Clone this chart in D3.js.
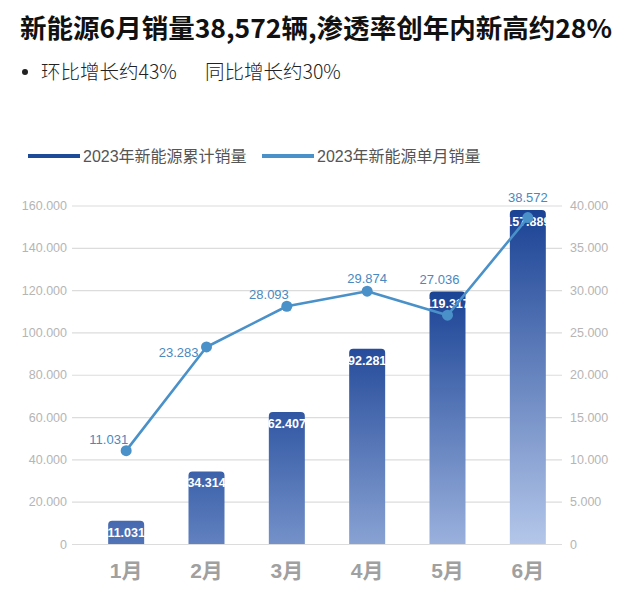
<!DOCTYPE html>
<html><head><meta charset="utf-8">
<script src="https://cdn.jsdelivr.net/npm/d3@7"></script>
<style>
html,body{margin:0;padding:0;background:#fff;}
svg{display:block;}
</style></head>
<body>
<svg id="chart" width="640" height="589"></svg>
<script>
// ---- data ----
const months = ["1月","2月","3月","4月","5月","6月"];
const cumulativeSales = [11031, 34314, 62407, 92281, 119317, 157889];
const monthlySales = [11031, 23283, 28093, 29874, 27036, 38572];
const leftTicks = [0,20000,40000,60000,80000,100000,120000,140000,160000];
const rightTicks = [0,5000,10000,15000,20000,25000,30000,35000,40000];
const seriesNames = ["2023年新能源累计销量","2023年新能源单月销量"];
const titleText = "新能源6月销量38,572辆,渗透率创年内新高约28%";
const subtitleParts = ["环比增长约43%", "同比增长约30%"];
// label placement for line values (style)
const lineLabelPlace = ["leftAbove","left","leftAbove","above","aboveLeft","above"];

const svg = d3.select("#chart");
const cjk = "'Liberation Sans','Noto Sans CJK SC',sans-serif";
const fmt = d3.formatLocale({decimal:",",thousands:".",grouping:[3],currency:["",""]}).format(",");

// title
svg.append("text").attr("x",20).attr("y",38)
  .attr("font-family","'Noto Sans CJK SC',sans-serif").attr("font-weight","bold")
  .attr("font-size",26).attr("fill","#111").attr("textLength",592).attr("lengthAdjust","spacingAndGlyphs")
  .text(titleText);
svg.append("circle").attr("cx",25).attr("cy",72).attr("r",3).attr("fill","#222");
const subX = [41, 205];
subtitleParts.forEach((t,i)=>{
  svg.append("text").attr("x",subX[i]).attr("y",79)
    .attr("font-family","'Noto Sans CJK SC',sans-serif").attr("font-weight",300)
    .attr("font-size",19.5).attr("fill","#222").text(t);
});

// legend
const legendColors = ["#1d4b98","#4a91c9"];
const legendX = [28, 262];
seriesNames.forEach((n,i)=>{
  svg.append("rect").attr("x",legendX[i]).attr("y",154).attr("width",52).attr("height",4).attr("fill",legendColors[i]);
  svg.append("text").attr("x",legendX[i]+55).attr("y",162)
    .attr("font-family",cjk).attr("font-size",16).attr("fill","#555").text(n);
});

// scales
const plotL = 72, plotR = 562, y0 = 544, y1 = 205.5;
const x = d3.scaleBand().domain(months).range([86,568]);
const yL = d3.scaleLinear().domain([0,160000]).range([y0,y1]);
const yR = d3.scaleLinear().domain([0,40000]).range([y0,y1]);
const barW = 36;
const cx = d => x(d) + x.bandwidth()/2;

// left axis w/ gridlines
const gL = svg.append("g").attr("transform",`translate(${plotL},0)`)
  .call(d3.axisLeft(yL).tickValues(leftTicks).tickFormat(d=>fmt(d)).tickSize(-(plotR-plotL)).tickPadding(5));
gL.select(".domain").remove();
gL.selectAll(".tick line").attr("stroke","#dcdcdc").attr("stroke-width",1.2);
gL.selectAll(".tick text").attr("fill","#b5b5b5").attr("font-size",12.5).attr("font-family","'Liberation Sans',sans-serif");

const gR = svg.append("g").attr("transform",`translate(${plotR},0)`)
  .call(d3.axisRight(yR).tickValues(rightTicks).tickFormat(d=>fmt(d)).tickSize(0).tickPadding(8));
gR.select(".domain").remove();
gR.selectAll(".tick text").attr("fill","#b5b5b5").attr("font-size",12.5).attr("font-family","'Liberation Sans',sans-serif");

// x labels
svg.append("g").selectAll("text").data(months).join("text")
  .attr("x",d=>cx(d)).attr("y",578).attr("text-anchor","middle")
  .attr("font-family",cjk).attr("font-weight","bold").attr("font-size",21).attr("fill","#a0a0a0").text(d=>d);

// bar gradients
const defs = svg.append("defs");
const dark = d3.color("#1a4294"), mid = d3.color("#4a6db3"), light = d3.color("#b4c7ea");
const maxH = y0 - yL(d3.max(cumulativeSales));
cumulativeSales.forEach((v,i)=>{
  const t = (y0 - yL(v))/maxH;
  const g = defs.append("linearGradient").attr("id","bg"+i).attr("x1",0).attr("y1",0).attr("x2",0).attr("y2",1);
  g.append("stop").attr("offset","0%").attr("stop-color",d3.interpolateRgb(mid,dark)(Math.min(1,t*1.3)));
  g.append("stop").attr("offset","100%").attr("stop-color",d3.interpolateRgb(mid,light)(t));
});

// bars with rounded top corners
const r = 4;
svg.append("g").selectAll("path").data(cumulativeSales).join("path")
  .attr("fill",(d,i)=>`url(#bg${i})`)
  .attr("d",(d,i)=>{
    const xl = cx(months[i]) - barW/2, xr = xl + barW, yt = yL(d);
    return `M${xl},${y0}V${yt+r}Q${xl},${yt} ${xl+r},${yt}H${xr-r}Q${xr},${yt} ${xr},${yt+r}V${y0}Z`;
  });
svg.append("g").selectAll("text").data(cumulativeSales).join("text")
  .attr("x",(d,i)=>cx(months[i])).attr("y",d=>yL(d)+16).attr("text-anchor","middle")
  .attr("font-family","'Liberation Sans',sans-serif").attr("font-weight","bold").attr("font-size",12.5)
  .attr("fill","#fff").text(d=>fmt(d));

// line
const lineColor = "#4a91c9";
const line = d3.line().x((d,i)=>cx(months[i])).y(d=>yR(d));
svg.append("path").datum(monthlySales).attr("d",line).attr("fill","none")
  .attr("stroke",lineColor).attr("stroke-width",2.6).attr("stroke-linejoin","round");
svg.append("g").selectAll("circle").data(monthlySales).join("circle")
  .attr("cx",(d,i)=>cx(months[i])).attr("cy",d=>yR(d)).attr("r",5.5).attr("fill",lineColor);
svg.append("g").selectAll("text").data(monthlySales).join("text")
  .attr("x",(d,i)=>{
    const p=lineLabelPlace[i], px=cx(months[i]);
    if (p==="above") return px;
    if (p==="aboveLeft") return px-8;
    return p==="left"? px-8 : px+2;
  })
  .attr("y",(d,i)=>{
    const p=lineLabelPlace[i], py=Math.min(yR(d), yL(cumulativeSales[i]));
    if (p==="above" || p==="aboveLeft") return py-8;
    return p==="left"? yR(d)+10 : yR(d)-7;
  })
  .attr("text-anchor",(d,i)=>lineLabelPlace[i]==="above"||lineLabelPlace[i]==="aboveLeft"?"middle":"end")
  .attr("font-family","'Liberation Sans',sans-serif").attr("font-size",13)
  .attr("fill","#4a88c0").text(d=>fmt(d));
</script>
</body></html>
